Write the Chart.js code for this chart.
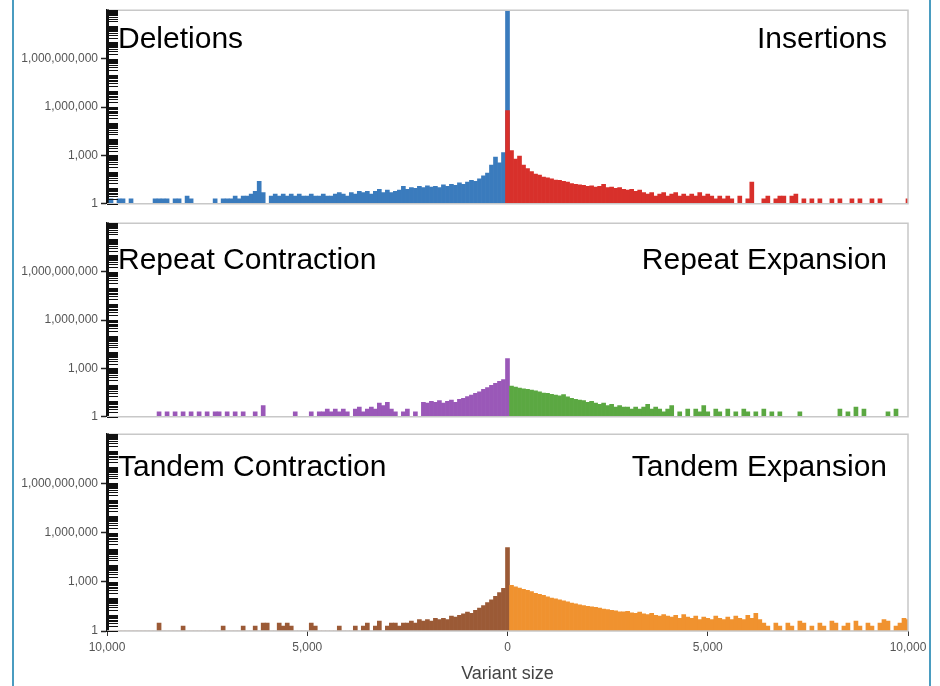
<!DOCTYPE html>
<html>
<head>
<meta charset="utf-8">
<title>Variant size distribution</title>
<script src="https://cdn.jsdelivr.net/npm/chart.js@4/dist/chart.umd.min.js"></script>
<style>
  html, body { margin: 0; padding: 0; background: #fff; }
  #page { position: relative; width: 940px; height: 686px; overflow: hidden; }
  #page::before, #page::after { content: ''; position: absolute; top: 0; bottom: 0; width: 2px; background: #4a9cc0; }
  #page::before { left: 12px; }
  #page::after { left: 929px; }
  canvas { position: absolute; left: 0; }
</style>
</head>
<body>
<div id="page">
  <canvas id="p1" width="940" height="214" style="top:0"></canvas>
  <canvas id="p2" width="940" height="214" style="top:213px"></canvas>
  <canvas id="p3" width="940" height="262" style="top:424px"></canvas>
</div>
<script>
// 100 bp bins: left side runs -10000..0, right side 0..10000
const sizesLeft = [];
const sizesRight = [];
for (let s = -10000; s <= 0; s += 100) sizesLeft.push(s);
for (let s = 0; s <= 10000; s += 100) sizesRight.push(s);

const yTickValues = [1, 1e3, 1e6, 1e9];
const xTickValues = [-10000, -5000, 0, 5000, 10000];

// counts per bin, last entry of the left arrays / first of the right arrays is the 0 bin
const deletions = [
  0, 2, 0, 2, 2, 0, 2, 0, 0, 0,
  0, 0, 2, 2, 2, 2, 0, 2, 2, 0,
  3, 2, 0, 0, 0, 0, 0, 2, 0, 2,
  2, 2, 3, 2, 3, 3, 4, 6, 25, 5,
  0, 3, 4, 3, 4, 3, 4, 3, 4, 3,
  3, 4, 3, 3, 4, 3, 3, 4, 5, 4,
  3, 5, 4, 6, 5, 6, 4, 6, 8, 5,
  7, 5, 6, 7, 12, 8, 10, 9, 12, 10,
  13, 11, 12, 10, 15, 12, 16, 14, 20, 16,
  22, 28, 25, 35, 55, 80, 250, 800, 350, 1500,
  1e12
];
const insertions = [
  6e5,
  2000, 600, 900, 250, 150, 100, 70, 60, 45, 40,
  35, 30, 28, 25, 22, 18, 16, 15, 14, 12,
  13, 11, 12, 16, 10, 11, 9, 10, 8, 7,
  8, 6, 7, 5, 4, 5, 3, 4, 5, 3,
  4, 5, 3, 4, 3, 4, 3, 5, 3, 4,
  3, 2, 3, 2, 3, 2, 0, 3, 0, 2,
  22, 0, 0, 2, 3, 0, 2, 3, 3, 0,
  3, 4, 0, 2, 0, 2, 0, 2, 0, 0,
  2, 0, 2, 0, 0, 2, 0, 2, 0, 0,
  2, 0, 2, 0, 0, 0, 0, 0, 0, 2
];
const repeatContraction = [
  0, 0, 0, 0, 0, 0, 0, 0, 0, 0,
  0, 0, 0, 2, 0, 2, 0, 2, 0, 2,
  0, 2, 0, 2, 0, 2, 0, 2, 2, 0,
  2, 0, 2, 0, 2, 0, 0, 2, 0, 5,
  0, 0, 0, 0, 0, 0, 0, 2, 0, 0,
  0, 2, 0, 2, 2, 3, 2, 3, 2, 3,
  2, 0, 3, 4, 2, 3, 4, 3, 7, 5,
  8, 3, 2, 0, 2, 3, 0, 2, 0, 8,
  7, 9, 8, 10, 7, 9, 11, 8, 12, 14,
  18, 22, 28, 35, 50, 65, 90, 120, 160, 200,
  4000
];
const repeatExpansion = [
  0,
  80, 70, 60, 55, 50, 45, 40, 35, 30, 28,
  25, 22, 20, 24, 17, 14, 12, 11, 10, 8,
  9, 7, 6, 7, 5, 6, 4, 5, 4, 4,
  3, 4, 3, 4, 6, 3, 4, 3, 2, 3,
  5, 0, 2, 0, 3, 0, 3, 2, 5, 2,
  0, 3, 2, 0, 3, 0, 2, 0, 3, 2,
  0, 2, 0, 3, 0, 2, 0, 2, 0, 0,
  0, 0, 2, 0, 0, 0, 0, 0, 0, 0,
  0, 0, 3, 0, 2, 0, 4, 0, 3, 0,
  0, 0, 0, 0, 2, 0, 3, 0, 0, 0
];
const tandemContraction = [
  0, 0, 0, 0, 0, 0, 0, 0, 0, 0,
  0, 0, 0, 3, 0, 0, 0, 0, 0, 2,
  0, 0, 0, 0, 0, 0, 0, 0, 0, 2,
  0, 0, 0, 0, 2, 0, 0, 2, 0, 3,
  3, 0, 0, 3, 2, 3, 2, 0, 0, 0,
  0, 3, 2, 0, 0, 0, 0, 0, 2, 0,
  0, 0, 2, 0, 2, 3, 0, 2, 4, 0,
  2, 3, 3, 2, 3, 3, 4, 3, 5, 4,
  5, 4, 6, 5, 6, 5, 8, 7, 9, 11,
  14, 12, 18, 25, 35, 55, 80, 130, 220, 400,
  120000
];
const tandemExpansion = [
  0,
  600, 500, 420, 350, 300, 250, 200, 170, 150, 120,
  100, 90, 80, 70, 60, 50, 45, 40, 36, 32,
  30, 28, 25, 22, 20, 18, 17, 15, 15, 16,
  13, 12, 14, 11, 10, 12, 9, 8, 10, 8,
  7, 9, 6, 10, 7, 6, 8, 5, 7, 6,
  5, 8, 6, 5, 7, 5, 8, 6, 5, 9,
  6, 12, 5, 3, 2, 0, 3, 2, 0, 3,
  2, 0, 4, 3, 0, 2, 0, 3, 2, 0,
  4, 3, 0, 2, 3, 0, 4, 2, 0, 3,
  2, 0, 3, 5, 4, 0, 2, 3, 6, 5
];

const FONT = '"Liberation Sans", Arial, Helvetica, sans-serif';
Chart.defaults.font.family = FONT;

const panels = [
  { id: 'p1', left: 'Deletions', right: 'Insertions', leftData: deletions, rightData: insertions,
    leftColor: '#3a7bbd', rightColor: '#d8302b', baseline: 38, axis: false },
  { id: 'p2', left: 'Repeat Contraction', right: 'Repeat Expansion', leftData: repeatContraction, rightData: repeatExpansion,
    leftColor: '#9a58b8', rightColor: '#5ba842', baseline: 46, axis: false },
  { id: 'p3', left: 'Tandem Contraction', right: 'Tandem Expansion', leftData: tandemContraction, rightData: tandemExpansion,
    leftColor: '#9b5a36', rightColor: '#f0922f', baseline: 42, axis: true }
];

// light frame, log minor ticks drawn inside the axis, and the two panel captions
const panelDecor = {
  id: 'panelDecor',
  afterDatasetsDraw(chart, args, opts) {
    const { ctx, chartArea: a, scales: { y } } = chart;
    ctx.save();
    ctx.strokeStyle = '#c8c8c8';
    ctx.lineWidth = 1.5;
    ctx.beginPath();
    ctx.moveTo(a.left, a.top);
    ctx.lineTo(a.right, a.top);
    ctx.lineTo(a.right, a.bottom);
    ctx.lineTo(a.left, a.bottom);
    ctx.stroke();

    ctx.strokeStyle = '#111';
    ctx.lineWidth = 1;
    for (let k = 0; k <= 12; k++) {
      for (let m = 1; m <= 9; m++) {
        const v = m * Math.pow(10, k);
        if (v > y.max) break;
        const py = Math.round(y.getPixelForValue(v)) + 0.5;
        ctx.beginPath();
        ctx.moveTo(a.left, py);
        ctx.lineTo(a.left + 11, py);
        ctx.stroke();
      }
    }

    ctx.fillStyle = '#000';
    ctx.font = '30px ' + FONT;
    ctx.textBaseline = 'alphabetic';
    ctx.textAlign = 'left';
    ctx.fillText(opts.left, a.left + 11, a.top + opts.baseline);
    ctx.textAlign = 'right';
    ctx.fillText(opts.right, a.right - 21, a.top + opts.baseline);
    ctx.restore();
  }
};

const toPoints = (xs, ys) => xs.map((x, i) => ({ x: x, y: ys[i] }));

function xScale(p) {
  const base = { type: 'linear', min: -10000, max: 10000, offset: false };
  if (!p.axis) return Object.assign(base, { display: false });
  return Object.assign(base, {
    afterFit: s => { s.height = 55; },
    afterBuildTicks: s => { s.ticks = xTickValues.map(v => ({ value: v })); },
    border: { display: false },
    grid: { offset: false, drawOnChartArea: false, tickLength: 5, tickColor: '#333' },
    ticks: {
      color: '#555', font: { size: 12 }, padding: 4, maxRotation: 0, autoSkip: false,
      callback: v => Math.abs(v).toLocaleString('en-US')
    },
    title: { display: true, text: 'Variant size', color: '#444', font: { size: 18 }, padding: { top: 0, bottom: 1 } }
  });
}

panels.forEach(p => {
  new Chart(document.getElementById(p.id), {
    type: 'bar',
    data: {
      datasets: [
        { label: p.right, data: toPoints(sizesRight, p.rightData), backgroundColor: p.rightColor },
        { label: p.left, data: toPoints(sizesLeft, p.leftData), backgroundColor: p.leftColor }
      ]
    },
    options: {
      responsive: false,
      animation: false,
      datasets: { bar: { grouped: false, barPercentage: 1, categoryPercentage: 1, borderWidth: 0 } },
      layout: { padding: { top: 9, right: 32, bottom: p.axis ? 0 : 6, left: 0 } },
      plugins: {
        legend: { display: false },
        tooltip: { enabled: false },
        panelDecor: { left: p.left, right: p.right, baseline: p.baseline }
      },
      scales: {
        x: xScale(p),
        y: {
          type: 'logarithmic', min: 1, max: 1e12,
          afterFit: s => { s.width = 107; },
          afterBuildTicks: s => { s.ticks = yTickValues.map(v => ({ value: v })); },
          border: { color: '#111', width: 3 },
          grid: { drawOnChartArea: false, tickLength: 6, tickColor: '#222', tickWidth: 1.5 },
          ticks: {
            color: '#555', font: { size: 12 }, padding: 3, autoSkip: false,
            callback: v => Number(v).toLocaleString('en-US')
          }
        }
      }
    },
    plugins: [panelDecor]
  });
});
</script>
</body>
</html>
